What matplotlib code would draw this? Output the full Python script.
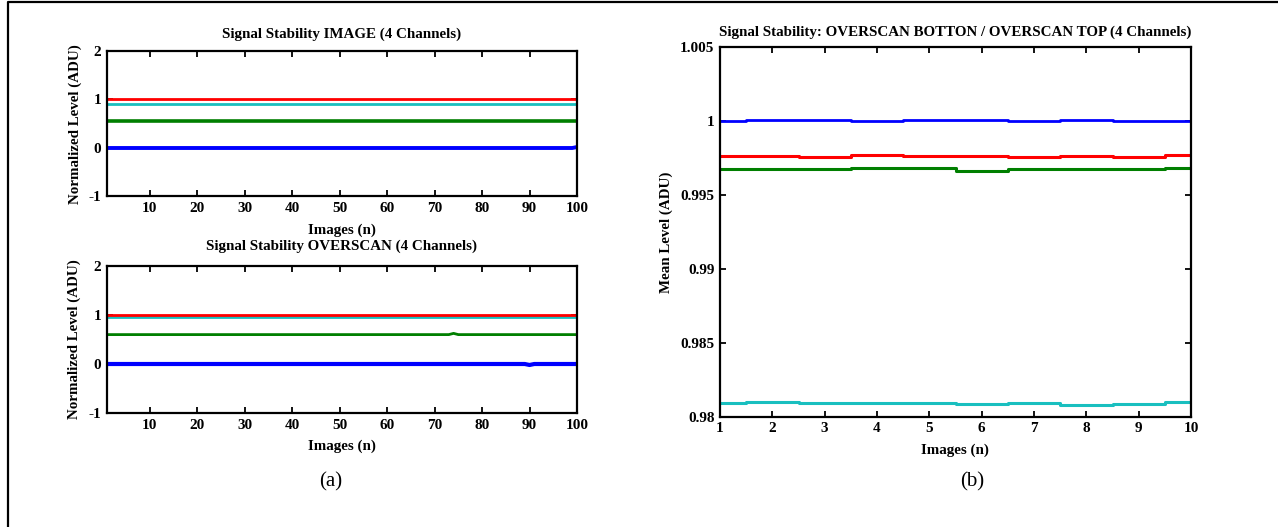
import numpy as np
import matplotlib
matplotlib.use("Agg")
import matplotlib.pyplot as plt
from matplotlib.lines import Line2D

plt.rcParams["axes.unicode_minus"] = False

# ---- data ----
images_a = list(range(1, 101))

# panel (a) top: IMAGE, normalized levels
image_red = [1.0] * 100
image_cyan = [0.91] * 100
image_green = [0.56] * 100
image_blue = [0.0] * 99 + [0.02]

# panel (a) bottom: OVERSCAN, normalized levels
over_red = [0.99] * 100
over_cyan = [0.96] * 100
over_green = [0.6] * 73 + [0.625] + [0.6] * 26
over_blue = [0.0] * 89 + [-0.02] + [0.0] * 10

# panel (b): OVERSCAN BOTTON / OVERSCAN TOP
images_b = [1, 2, 3, 4, 5, 6, 7, 8, 9, 10]
ratio_blue = [0.99998, 1.00005, 1.00005, 0.99998, 1.00007, 1.00007, 1.00000, 1.00011, 1.00000, 1.00000]
ratio_red = [0.99762, 0.99766, 0.99760, 0.99771, 0.99764, 0.99764, 0.99760, 0.99764, 0.99760, 0.99773]
ratio_green = [0.99673, 0.99677, 0.99677, 0.99684, 0.99682, 0.99666, 0.99673, 0.99675, 0.99675, 0.99682]
ratio_cyan = [0.98092, 0.98097, 0.98092, 0.98092, 0.98095, 0.98088, 0.98095, 0.98077, 0.98088, 0.98099]

a_xticks = [10, 20, 30, 40, 50, 60, 70, 80, 90, 100]
a_yticks = [-1, 0, 1, 2]
b_yticks = [0.98, 0.985, 0.99, 0.995, 1.0, 1.005]
b_ylabels = ["0.98", "0.985", "0.99", "0.995", "1", "1.005"]

RED = "#ff0000"
CYAN = "#19bfbf"
GREEN = "#007f00"
BLUE = "#0000ff"

W, H = 1278, 527
fig = plt.figure(figsize=(W / 100, H / 100), dpi=100)

font = "Liberation Serif"
tick_fs = 11


def px_axes(left, top, right, bottom):
    return fig.add_axes([left / W, 1 - bottom / H, (right - left) / W, (bottom - top) / H])


def style(ax):
    for s in ax.spines.values():
        s.set_linewidth(1.6)
    ax.tick_params(direction="in", top=True, right=True, length=4, width=1.3,
                   labelsize=tick_fs, pad=4)
    for lab in ax.get_xticklabels() + ax.get_yticklabels():
        lab.set_fontfamily(font)
        lab.set_fontweight("bold")


def ftext(x, y, s, **kw):
    kw.setdefault("family", font)
    kw.setdefault("ha", "center")
    kw.setdefault("va", "center")
    fig.text(x / W, 1 - y / H, s, **kw)


# ---- panel (a) top ----
ax1 = px_axes(107, 51, 577, 196.5)
ax1.plot(images_a, image_red, color=RED, lw=2.0)
ax1.plot(images_a, image_cyan, color=CYAN, lw=2.0)
ax1.plot(images_a, image_green, color=GREEN, lw=2.6)
ax1.plot(images_a, image_blue, color=BLUE, lw=2.8)
ax1.set_xlim(1, 100)
ax1.set_ylim(-1, 2)
ax1.set_xticks(a_xticks)
ax1.set_yticks(a_yticks)
style(ax1)

# ---- panel (a) bottom ----
ax2 = px_axes(107, 266, 577, 413)
ax2.plot(images_a, over_cyan, color=CYAN, lw=2.0)
ax2.plot(images_a, over_red, color=RED, lw=2.0)
ax2.plot(images_a, over_green, color=GREEN, lw=2.0)
ax2.plot(images_a, over_blue, color=BLUE, lw=3.0)
ax2.set_xlim(1, 100)
ax2.set_ylim(-1, 2)
ax2.set_xticks(a_xticks)
ax2.set_yticks(a_yticks)
style(ax2)

# ---- panel (b) ----
ax3 = px_axes(720, 47.3, 1191, 416.7)
ax3.plot(images_b, ratio_blue, color=BLUE, lw=2.0, drawstyle="steps-mid")
ax3.plot(images_b, ratio_red, color=RED, lw=2.2, drawstyle="steps-mid")
ax3.plot(images_b, ratio_green, color=GREEN, lw=2.2, drawstyle="steps-mid")
ax3.plot(images_b, ratio_cyan, color=CYAN, lw=2.2, drawstyle="steps-mid")
ax3.set_xlim(1, 10)
ax3.set_ylim(0.98, 1.005)
ax3.set_xticks(images_b)
ax3.set_yticks(b_yticks)
ax3.set_yticklabels(b_ylabels)
style(ax3)

# ---- texts ----
lab_fs = 10.8
ftext(342, 34, "Signal Stability IMAGE (4 Channels)", fontsize=lab_fs, weight="bold")
ftext(342, 230, "Images (n)", fontsize=lab_fs, weight="bold")
ftext(75, 124, "Normalized Level (ADU)", fontsize=lab_fs, weight="bold", rotation=90)

ftext(342, 246, "Signal Stability OVERSCAN (4 Channels)", fontsize=lab_fs, weight="bold")
ftext(342, 446, "Images (n)", fontsize=lab_fs, weight="bold")
ftext(74, 339, "Normalized Level (ADU)", fontsize=lab_fs, weight="bold", rotation=90)

ftext(955, 32, "Signal Stability: OVERSCAN BOTTON / OVERSCAN TOP (4 Channels)",
      fontsize=lab_fs, weight="bold")
ftext(955, 450, "Images (n)", fontsize=lab_fs, weight="bold")
ftext(666, 232, "Mean Level (ADU)", fontsize=lab_fs, weight="bold", rotation=90)

ftext(331, 482, "(a)", fontsize=15)
ftext(972, 482, "(b)", fontsize=15)

# outer frame (left and top edges visible)
fig.add_artist(Line2D([7.5 / W, 7.5 / W, 1.0], [0.0, 1 - 1.5 / H, 1 - 1.5 / H],
                      transform=fig.transFigure, color="black", lw=1.6))

fig.savefig("out.png", dpi=100)
